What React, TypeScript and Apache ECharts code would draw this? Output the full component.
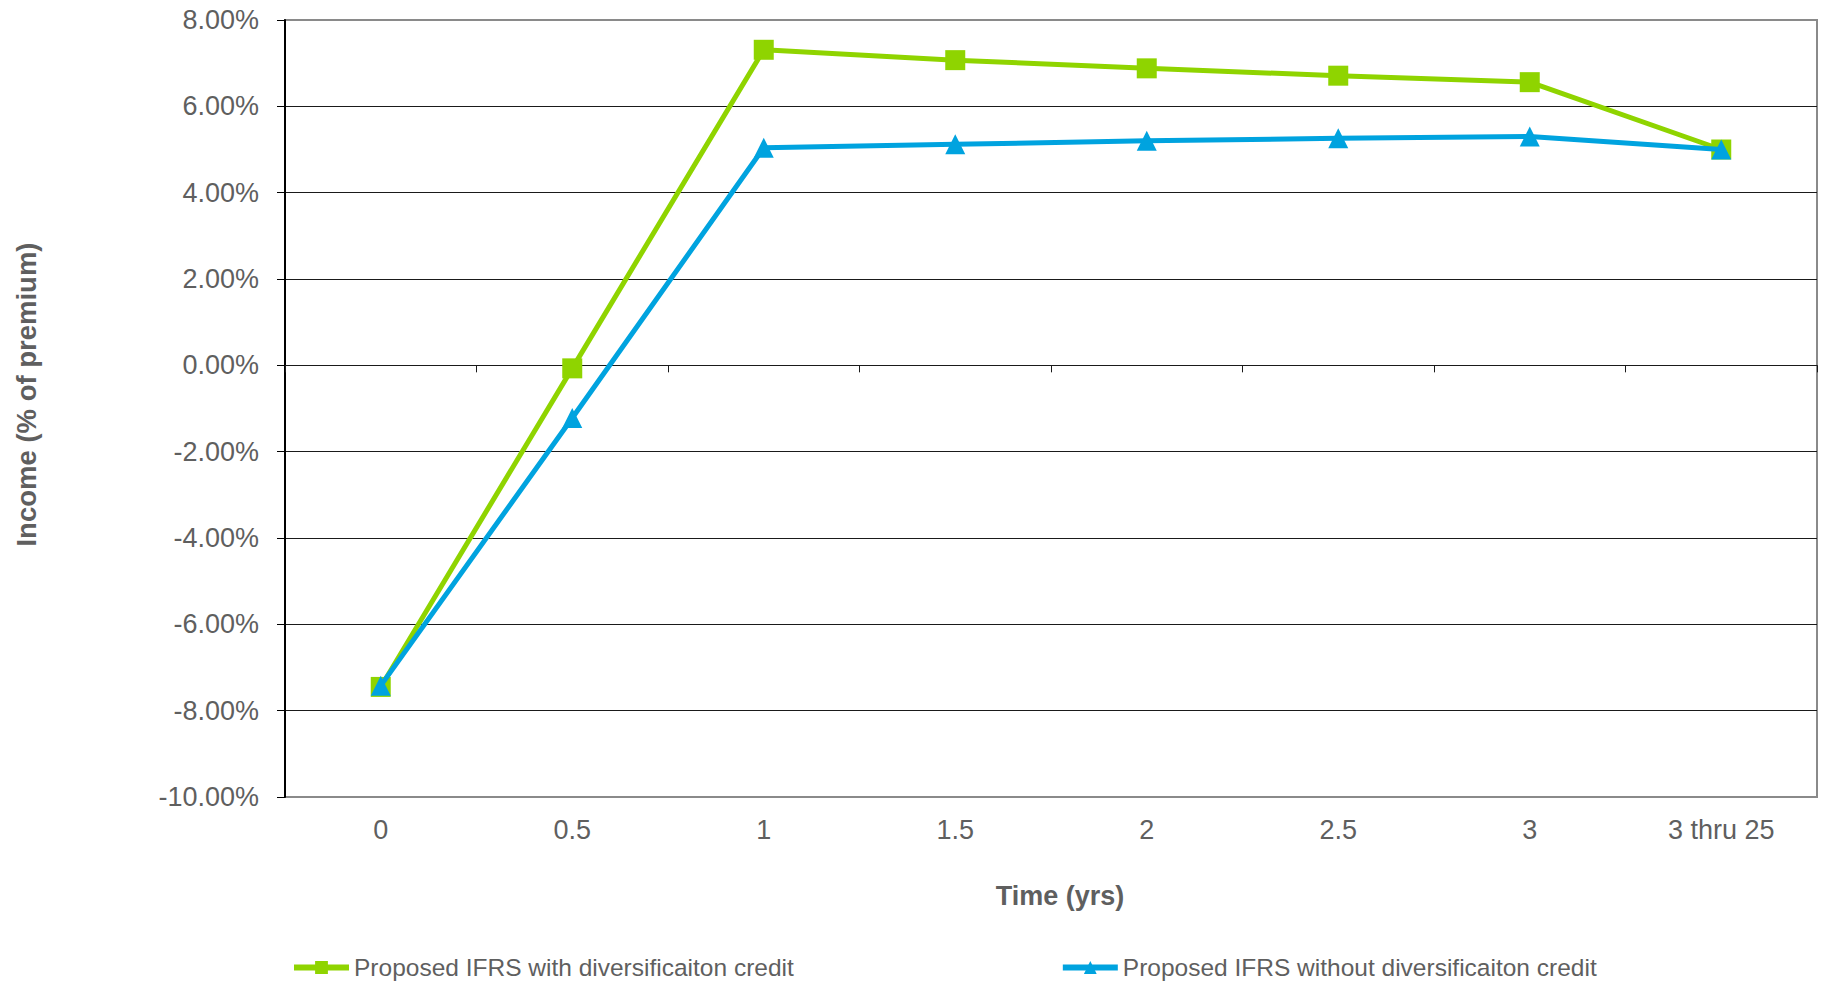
import React, { useEffect, useRef } from "react";
import * as echarts from "echarts";

// Time buckets along the horizontal axis
const categories = ["0", "0.5", "1", "1.5", "2", "2.5", "3", "3 thru 25"];

// Income as % of premium
const withCredit = [-7.45, -0.07, 7.31, 7.07, 6.88, 6.71, 6.56, 5.0];
const withoutCredit = [-7.42, -1.22, 5.04, 5.12, 5.2, 5.26, 5.3, 5.0];

const seriesNames = [
  "Proposed IFRS with diversificaiton credit",
  "Proposed IFRS without diversificaiton credit",
];

const yMin = -10;
const yMax = 8;
const yStep = 2;

const GREEN = "#8FD400";
const BLUE = "#00A3DF";
const TEXT = "#5f5f5f";
const FONT = "'Liberation Sans', Arial, sans-serif";

export default function App() {
  const ref = useRef<HTMLDivElement>(null);

  useEffect(() => {
    if (!ref.current) return;
    const chart = echarts.init(ref.current, undefined, { renderer: "svg" });

    // grid lines: gray at the frame edges, dark inside
    const gridColors: string[] = [];
    for (let v = yMin; v <= yMax; v += yStep) {
      gridColors.push(v === yMin || v === yMax ? "#8a8a8a" : "#1a1a1a");
    }

    chart.setOption({
      animation: false,
      textStyle: { fontFamily: FONT },
      grid: {
        left: 285,
        right: 6,
        top: 20,
        bottom: 185,
        show: true,
        borderColor: "#8a8a8a",
        borderWidth: 2,
        backgroundColor: "transparent",
      },
      legend: {
        left: 286,
        top: 950,
        itemGap: 266,
        itemWidth: 55,
        itemHeight: 16,
        textStyle: { fontSize: 24.5, color: TEXT, fontFamily: FONT },
        data: [
          { name: seriesNames[0], lineStyle: { width: 6 } },
          { name: seriesNames[1], lineStyle: { width: 6 } },
        ],
      },
      xAxis: [
        {
          type: "category",
          data: categories,
          boundaryGap: true,
          position: "bottom",
          axisLine: { show: false, onZero: false },
          axisTick: { show: false },
          axisLabel: { fontSize: 27, color: TEXT, margin: 19, interval: 0 },
          name: "Time (yrs)",
          nameLocation: "middle",
          nameGap: 85,
          nameTextStyle: {
            fontSize: 27,
            fontWeight: "bold",
            color: TEXT,
            padding: [0, 0, 0, 18],
          },
        },
        {
          type: "category",
          data: categories,
          boundaryGap: true,
          position: "bottom",
          axisLine: { show: true, onZero: true, lineStyle: { color: "#1a1a1a", width: 1 } },
          axisTick: { show: true, length: 7, interval: 0, lineStyle: { color: "#1a1a1a" } },
          axisLabel: { show: false },
          splitLine: { show: false },
        },
      ],
      yAxis: {
        type: "value",
        min: yMin,
        max: yMax,
        interval: yStep,
        axisLine: { show: true, lineStyle: { color: "#000", width: 2 } },
        axisTick: { show: true, length: 8, lineStyle: { color: "#000" } },
        axisLabel: {
          fontSize: 27,
          color: TEXT,
          margin: 26,
          formatter: (v: number) => v.toFixed(2) + "%",
        },
        splitLine: { show: true, lineStyle: { color: gridColors, width: 1.2 } },
        name: "Income (% of premium)",
        nameLocation: "middle",
        nameGap: 245,
        nameTextStyle: {
          fontSize: 27.5,
          fontWeight: "bold",
          color: TEXT,
          padding: [0, 0, 0, 28],
        },
      },
      series: [
        {
          name: seriesNames[0],
          type: "line",
          data: withCredit,
          xAxisIndex: 0,
          symbol: "rect",
          symbolSize: 20,
          showAllSymbol: true,
          lineStyle: { color: GREEN, width: 5 },
          itemStyle: { color: GREEN },
          emphasis: { disabled: true },
          z: 3,
        },
        {
          name: seriesNames[1],
          type: "line",
          data: withoutCredit,
          xAxisIndex: 0,
          symbol: "triangle",
          symbolSize: 20,
          showAllSymbol: true,
          lineStyle: { color: BLUE, width: 5 },
          itemStyle: { color: BLUE },
          emphasis: { disabled: true },
          z: 4,
        },
      ],
    });

    return () => chart.dispose();
  }, []);

  return (
    <div
      ref={ref}
      style={{ position: "fixed", left: 0, top: 0, width: 1823, height: 982, background: "#fff" }}
    />
  );
}
